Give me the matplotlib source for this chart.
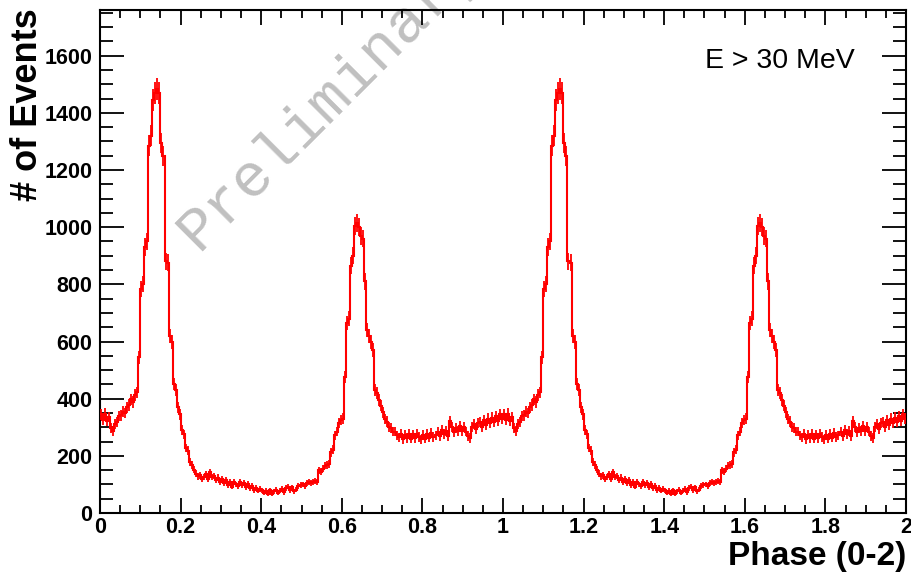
import numpy as np
import matplotlib.pyplot as plt
from matplotlib.ticker import MultipleLocator, FuncFormatter

# pulse profile: counts per phase bin over one rotation (200 bins of 0.005)
counts = [
    # phase 0.0 - 0.1
    345, 325, 348, 322, 335, 298, 288, 310, 318, 340, 342, 355, 350, 370, 378, 398, 388, 412, 422, 545,
    # 0.1 - 0.2
    785, 800, 930, 950, 1285, 1320, 1445, 1470, 1485, 1470, 1295, 1250, 880, 875, 620, 600, 450, 430, 370, 345,
    # 0.2 - 0.3
    290, 275, 228, 218, 178, 168, 152, 138, 128, 132, 118, 126, 135, 118, 142, 125, 130, 115, 124, 110,
    # 0.3 - 0.4
    118, 105, 115, 98, 108, 92, 110, 100, 95, 108, 98, 104, 90, 102, 86, 95, 80, 88, 78, 84,
    # 0.4 - 0.5
    80, 70, 78, 66, 80, 68, 76, 82, 70, 78, 84, 72, 88, 92, 80, 90, 76, 82, 94, 98,
    # 0.5 - 0.6
    100, 95, 104, 110, 105, 108, 112, 110, 150, 145, 155, 165, 168, 172, 212, 222, 272, 285, 315, 325,
    # 0.6 - 0.7
    330, 475, 665, 680, 865, 900, 1005, 1015, 1000, 970, 960, 810, 640, 620, 600, 570, 430, 420, 395, 375,
    # 0.7 - 0.8
    352, 328, 320, 302, 298, 285, 285, 272, 265, 278, 258, 274, 262, 276, 260, 275, 262, 278, 266, 258,
    # 0.8 - 0.9
    274, 260, 276, 264, 280, 266, 272, 285, 268, 290, 276, 288, 270, 322, 300, 282, 298, 286, 304, 288,
    # 0.9 - 1.0
    300, 285, 270, 262, 302, 310, 295, 315, 318, 302, 325, 308, 330, 315, 334, 318, 340, 322, 345, 330,
]
n_cycles = 2
energy_label = 'E > 30 MeV'

y = np.tile(counts, n_cycles).astype(float)
edges = np.linspace(0, n_cycles, len(y) + 1)
centers = 0.5 * (edges[1:] + edges[:-1])
err = np.sqrt(y)

plt.rcParams['font.family'] = 'Liberation Sans'
fig = plt.figure(figsize=(9.11, 5.76), dpi=100)
ax = fig.add_axes([0.1098, 0.1094, 0.8847, 0.8733])

ax.stairs(y, edges, baseline=None, color='red', lw=1.5, zorder=3)
ax.errorbar(centers, y, yerr=err, fmt='none', ecolor='red', elinewidth=1.3, capsize=0, zorder=3)

ax.set_xlim(0, n_cycles)
ax.set_ylim(0, 1760)

ax.xaxis.set_major_locator(MultipleLocator(0.2))
ax.xaxis.set_minor_locator(MultipleLocator(0.05))
ax.yaxis.set_major_locator(MultipleLocator(200))
ax.yaxis.set_minor_locator(MultipleLocator(50))
ax.xaxis.set_major_formatter(FuncFormatter(lambda v, p: '%g' % round(v, 3)))

ax.tick_params(which='both', direction='in', top=True, right=True, width=1.3)
ax.tick_params(axis='y', which='major', length=17, pad=5.5, labelsize=15.5)
ax.tick_params(axis='y', which='minor', length=9.5)
ax.tick_params(axis='x', which='major', length=11, pad=3, labelsize=15.5)
ax.tick_params(axis='x', which='minor', length=5.5)
for lab in ax.get_xticklabels() + ax.get_yticklabels():
    lab.set_fontweight('bold')
for s in ax.spines.values():
    s.set_linewidth(1.5)

fig.text(28 / 911, 1 - 8 / 576, '# of Events', rotation=90, ha='center', va='top',
         fontsize=26, fontweight='bold')
fig.text(906 / 911, 1 - 565 / 576, 'Phase (0-2)', ha='right', va='baseline',
         fontsize=24, fontweight='bold')
fig.text(705 / 911, 1 - 61 / 576, energy_label, ha='left', va='center', fontsize=20.5)

# watermark
ax.text(198 / 911, 1 - 252 / 576, 'Preliminary', transform=fig.transFigure,
        family='Liberation Mono', fontsize=44, color='#c0c0c0', rotation=45,
        rotation_mode='anchor', ha='left', va='baseline', clip_on=False, zorder=1)

fig.savefig('out.png', dpi=100)
